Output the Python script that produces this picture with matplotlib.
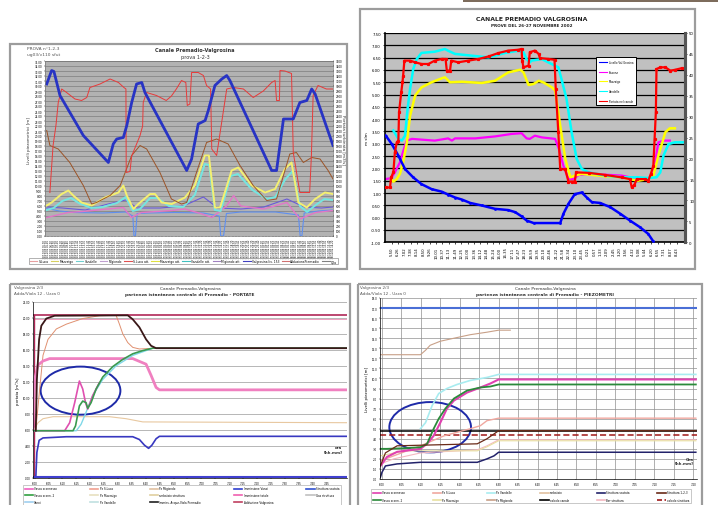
import matplotlib
matplotlib.use("Agg")
import matplotlib.pyplot as plt
from matplotlib.patches import Rectangle, Ellipse
from matplotlib.lines import Line2D

W, H = 718, 506

# ---------------- DATA: panel 1 (top-left) ----------------
p1_blue_x = [0.6, 2.3, 3.1, 5.2, 13.3, 22.0, 23.7, 24.9, 27.2, 28.4, 30.1, 31.8, 33.6, 34.7, 49.2, 50.9, 53.2, 55.6, 56.7, 59.0, 61.4, 63.1, 64.2, 78.7, 80.4, 82.8, 86.2, 88.5, 90.9, 92.6, 93.8, 100]
p1_blue_y = [30.4, 33.1, 32.9, 28.1, 20.1, 14.7, 18.4, 19.4, 19.7, 22.1, 26.7, 30.4, 30.7, 28.7, 13.1, 15.4, 22.4, 23.1, 25.1, 30.1, 31.4, 32.1, 31.1, 13.1, 13.1, 23.4, 23.4, 26.7, 27.1, 29.4, 28.4, 18.1]
p1_red_x = [1.7, 2.8, 3.8, 4.6, 5.8, 7.5, 10.4, 12.7, 14.5, 15.6, 19.1, 22.6, 25.5, 27.4, 28.1, 28.2, 29.5, 30.1, 33.0, 33.9, 34.1, 35.3, 38.7, 42.1, 43.9, 45.6, 47.4, 48.9, 49.4, 50.3, 50.9, 53.2, 55.0, 56.1, 57.5, 57.9, 59.6, 63.1, 65.4, 68.9, 72.3, 75.8, 78.7, 79.9, 80.4, 81.4, 81.6, 83.3, 85.6, 86.2, 88.5, 91.9, 92.5, 93.1, 94.8, 97.7, 100]
p1_red_y = [8.7, 18.1, 22.1, 26.7, 29.4, 28.7, 27.4, 27.1, 27.7, 29.7, 30.4, 31.4, 30.7, 29.7, 29.4, 12.7, 12.9, 16.0, 20.1, 22.0, 26.7, 28.7, 28.1, 27.1, 28.0, 29.4, 31.1, 30.7, 26.1, 26.4, 32.7, 32.7, 32.1, 30.1, 29.4, 17.4, 16.1, 29.4, 29.7, 29.4, 27.7, 29.0, 30.7, 31.1, 27.1, 27.1, 33.1, 33.0, 32.5, 16.7, 8.7, 8.7, 16.1, 28.1, 30.1, 29.4, 29.4]
p1_brown_x = [0.6, 1.7, 4.6, 8.6, 13.3, 16.2, 17.9, 22.6, 26.1, 30.1, 33.0, 35.3, 39.9, 43.9, 47.4, 49.2, 52.6, 56.1, 59.6, 63.6, 67.7, 72.3, 77.0, 80.4, 85.0, 87.3, 89.7, 92.6, 95.5, 98.3, 100]
p1_brown_y = [21.1, 18.1, 17.4, 14.7, 10.1, 6.4, 6.7, 8.1, 10.1, 16.1, 18.1, 17.4, 12.7, 7.4, 6.4, 6.7, 12.7, 18.7, 19.4, 18.4, 14.1, 10.1, 7.1, 7.4, 16.4, 16.7, 14.7, 15.7, 15.4, 13.1, 11.4]
p1_yellow_x = [0.6, 2.3, 5.8, 8.1, 9.8, 12.7, 16.2, 20.8, 25.5, 27.2, 28.4, 30.7, 32.4, 36.5, 38.2, 40.5, 44.0, 48.6, 52.0, 55.5, 56.9, 59.0, 60.8, 64.8, 67.1, 71.8, 76.4, 79.9, 83.3, 85.6, 88.0, 90.9, 93.8, 97.2, 100]
p1_yellow_y = [6.1, 6.7, 8.4, 9.1, 8.1, 6.7, 6.1, 7.7, 8.7, 10.1, 8.1, 5.4, 6.4, 8.4, 8.4, 6.7, 6.4, 7.7, 10.1, 16.1, 16.1, 5.7, 5.7, 13.1, 13.7, 10.1, 8.7, 9.4, 13.4, 14.7, 6.7, 5.7, 7.4, 8.7, 8.4]
p1_cyan_x = [0.6, 3.0, 6.0, 9.0, 12.0, 16.0, 20.0, 25.0, 28.0, 30.5, 33.0, 36.5, 39.0, 43.0, 48.0, 52.0, 55.5, 57.0, 59.0, 61.0, 64.5, 67.0, 72.0, 77.0, 80.0, 83.5, 86.0, 88.5, 91.0, 94.0, 97.0, 100]
p1_cyan_y = [5.2, 5.6, 7.0, 7.6, 6.5, 5.6, 5.8, 6.6, 7.8, 5.0, 5.4, 7.6, 7.6, 6.0, 5.8, 8.2, 14.4, 14.2, 5.2, 5.0, 12.0, 12.4, 9.2, 7.4, 7.8, 11.4, 13.0, 6.0, 4.8, 6.2, 7.4, 7.2]
p1_ltblue_x = [0.6, 5.0, 10.0, 20.0, 28.0, 30.5, 30.9, 31.4, 32.0, 36.0, 45.0, 55.0, 60.5, 61.0, 62.0, 63.0, 68.0, 80.0, 88.0, 88.6, 89.2, 90.0, 95.0, 100]
p1_ltblue_y = [5.5, 5.0, 4.7, 4.6, 4.8, 4.0, 0.0, 0.0, 4.5, 4.6, 4.7, 4.6, 4.0, 0.0, 0.0, 4.5, 4.8, 4.8, 4.2, 0.0, 0.0, 4.6, 5.0, 5.2]
p1_pink_x = [0.6, 8.0, 13.0, 22.0, 27.2, 30.0, 33.5, 44.0, 48.6, 54.0, 58.0, 63.0, 65.5, 68.0, 76.0, 84.0, 88.5, 94.0, 100]
p1_pink_y = [3.7, 4.7, 4.9, 5.4, 5.7, 3.7, 4.7, 5.1, 5.4, 4.5, 3.7, 6.0, 8.1, 6.0, 5.4, 6.7, 3.4, 4.7, 5.1]
p1_purple_x = [0.6, 6.0, 14.0, 22.0, 28.0, 32.0, 40.0, 48.0, 55.0, 60.0, 68.0, 76.0, 84.0, 90.0, 96.0, 100]
p1_purple_y = [5.8, 5.6, 5.2, 6.4, 7.2, 5.6, 5.6, 6.0, 7.8, 5.6, 5.4, 5.8, 7.4, 5.8, 5.6, 5.8]
p1_legend = ["S.Luca", "Mazzaigo", "Vandelle", "Migiondo", "S.Luca att.", "Mazzaigo att.",
             "Vandelle att.", "Migiondo att.", "Valgrosina liv. 153", "AdduzionePremadio", "Q2a"]

# ---------------- DATA: panel 2 (top-right) ----------------
p2_times = ["5.50", "6.26", "7.02", "7.38", "8.14", "8.50", "9.26", "10.01", "10.37", "11.13", "11.49",
            "12.25", "13.00", "13.36", "14.12", "14.48", "15.24", "16.00", "16.35", "17.11", "17.47",
            "18.23", "18.59", "19.35", "20.10", "20.46", "21.22", "21.58", "22.34", "23.10", "23.45",
            "0.21", "0.57", "1.33", "2.09", "2.45", "3.20", "3.56", "4.32", "5.08", "5.44", "6.20",
            "6.55", "7.31", "8.07", "8.43"]
p2_blue_x = [-0.95, 0, 1.05, 2.1, 3.4, 4.7, 6.3, 7.9, 8.9, 10.0, 11.1, 12.4, 14.2, 16.3, 18.4, 19.5, 20.5, 21.3, 22.4, 26.6, 27.1, 27.9, 28.9, 30.0, 30.8, 31.6, 32.9, 34.5, 36.1, 37.6, 39.2, 40.5, 41.3]
p2_blue_r = [25.5, 23.5, 20.7, 17.5, 15.5, 13.9, 12.7, 12.1, 11.4, 10.7, 10.2, 9.4, 8.8, 8.0, 7.7, 7.2, 6.2, 5.2, 4.6, 4.6, 6.8, 9.2, 11.5, 11.9, 10.7, 9.6, 9.4, 8.4, 6.8, 5.2, 3.6, 2.0, 0.2]
p2_red_x = [-0.95, -0.26, -0.1, 0.26, 0.5, 0.8, 1.05, 1.16, 1.5, 1.7, 1.8, 2.0, 2.9, 3.7, 4.7, 5.8, 6.8, 7.9, 8.5, 8.7, 9.2, 9.4, 10.5, 12.1, 13.7, 15.3, 16.8, 18.4, 20.0, 20.5, 20.6, 20.8, 21.6, 21.8, 22.6, 23.2, 23.4, 24.7, 25.7, 25.9, 26.3, 26.6, 27.4, 27.9, 28.4, 28.9, 29.1, 31.1, 33.7, 36.3, 37.6, 37.9, 38.3, 38.7, 40.0, 40.5, 40.9, 41.3, 41.5, 41.7, 41.8, 42.4, 43.2, 44.0, 44.7, 45.8, 46.3]
p2_red_r = [13.1, 13.1, 15.5, 16.7, 21.5, 23.9, 24.3, 31.1, 35.8, 38.2, 39.8, 43.4, 43.4, 43.0, 42.6, 42.6, 43.4, 43.8, 43.8, 41.0, 41.0, 43.4, 43.0, 43.4, 43.8, 44.4, 45.2, 45.8, 46.0, 46.2, 43.4, 41.8, 42.2, 45.4, 45.8, 45.0, 44.0, 43.8, 43.6, 36.6, 26.3, 17.5, 17.4, 14.5, 14.5, 14.5, 16.7, 16.6, 16.1, 15.5, 15.1, 13.1, 13.7, 15.1, 15.1, 14.7, 16.3, 18.3, 24.7, 31.1, 41.4, 41.8, 41.8, 41.0, 41.2, 41.6, 41.4]
p2_cyan_x = [0.26, 1.05, 1.6, 2.1, 2.5, 2.9, 3.4, 3.95, 4.7, 6.8, 8.4, 8.9, 10.0, 12.6, 15.3, 17.9, 20.0, 20.8, 21.3, 21.8, 22.1, 23.7, 25.8, 26.3, 26.8, 27.6, 28.4, 29.2, 30.0, 31.1, 33.7, 36.3, 38.9, 40.5, 41.8, 42.4, 42.9, 43.7, 44.7, 46.1]
p2_cyan_y = [3.54, 3.2, 3.13, 3.33, 4.41, 5.23, 6.04, 6.44, 6.69, 6.74, 6.85, 6.78, 6.65, 6.58, 6.51, 6.69, 6.78, 6.72, 6.44, 6.31, 6.38, 6.44, 6.17, 6.11, 5.63, 4.82, 3.47, 2.39, 1.98, 1.84, 1.71, 1.64, 1.64, 1.61, 1.64, 1.84, 2.52, 2.99, 3.06, 3.06]
p2_yellow_x = [-0.1, 0.26, 0.8, 1.3, 1.8, 2.4, 2.9, 3.7, 4.7, 6.3, 7.9, 8.4, 9.2, 11.1, 14.2, 16.3, 18.4, 20.3, 20.8, 21.6, 22.4, 23.2, 23.9, 25.3, 25.8, 26.6, 27.4, 28.2, 28.9, 30.0, 33.7, 36.3, 38.9, 40.5, 41.3, 42.1, 43.2, 43.9, 44.7]
p2_yellow_y = [1.57, 1.46, 1.57, 1.78, 2.25, 3.06, 4.14, 4.96, 5.29, 5.5, 5.66, 5.7, 5.5, 5.52, 5.47, 5.56, 5.9, 6.01, 5.9, 5.39, 5.43, 5.56, 5.5, 5.29, 5.16, 3.74, 2.39, 1.64, 1.71, 1.78, 1.68, 1.64, 1.5, 1.57, 1.71, 2.52, 3.47, 3.63, 3.63]
p2_magenta_x = [-0.95, -0.1, 0.5, 1.3, 2.0, 2.4, 3.2, 4.7, 6.8, 8.9, 9.5, 10.0, 13.2, 16.3, 18.9, 20.5, 21.3, 21.8, 22.6, 23.7, 25.8, 26.4, 27.1, 27.9, 28.7, 29.5, 31.1, 36.3, 38.9, 40.5, 41.3, 42.1, 42.9, 43.9]
p2_magenta_y = [1.57, 1.6, 1.84, 2.25, 2.86, 3.13, 3.2, 3.17, 3.13, 3.22, 3.13, 3.22, 3.22, 3.3, 3.4, 3.43, 3.22, 3.2, 3.33, 3.26, 3.2, 2.79, 2.11, 1.57, 1.57, 1.73, 1.78, 1.71, 1.57, 1.57, 1.84, 3.06, 3.13, 3.13]
p2_legend = ["Livello Val Grosina", "Sissone", "Mazzaigo", "Vandelle", "Portata nel canale"]

# ---------------- DATA: panel 3 (bottom-left, PORTATE) ----------------
p3_times = ["6.00", "6.05", "6.10", "6.15", "6.20", "6.25", "6.30", "6.35", "6.40", "6.45", "6.50",
            "6.55", "7.00", "7.05", "7.10", "7.15", "7.20", "7.25", "7.30", "7.35", "7.40", "7.45"]
p3_black_x = [0.4, 0.8, 1.6, 2.4, 4.2, 7.2, 33.5, 35.3, 37.7, 40.1, 41.9, 43.7, 112.4]
p3_black_y = [5.9, 12.3, 17.3, 19.0, 19.9, 20.25, 20.3, 19.8, 18.8, 17.3, 16.5, 16.2, 16.2]
p3_salmon_x = [0.4, 1.8, 3.0, 4.8, 7.8, 11.4, 17.3, 23.3, 29.3, 30.5, 31.7, 33.5, 35.3, 37.7, 43.7, 112.4]
p3_salmon_y = [5.9, 11.1, 15.3, 17.3, 18.6, 19.2, 19.9, 20.25, 20.3, 19.2, 18.0, 16.9, 16.3, 16.1, 16.2, 16.2]
p3_pink_x = [-0.6, 0.0, 1.2, 3.0, 5.4, 35.3, 40.1, 41.9, 43.7, 44.9, 112.4]
p3_pink_y = [5.9, 12.3, 14.1, 14.6, 14.9, 14.9, 14.2, 12.8, 11.3, 11.0, 11.0]
p3_green_x = [-0.6, 13.8, 14.7, 16.1, 17.3, 18.5, 19.1, 20.3, 22.1, 24.5, 28.1, 31.7, 35.3, 38.9, 42.5, 112.4]
p3_green_y = [5.9, 5.9, 6.5, 9.0, 9.6, 9.4, 8.7, 9.4, 11.1, 12.6, 13.9, 14.8, 15.5, 15.9, 16.2, 16.2]
p3_magenta_x = [-0.6, 10.8, 12.6, 14.4, 16.1, 17.3, 18.3, 19.1, 20.9, 23.3]
p3_magenta_y = [5.9, 5.9, 6.9, 9.4, 12.1, 11.1, 9.4, 8.6, 10.3, 11.9]
p3_cyan_x = [-0.6, 15.0, 16.7, 18.5, 20.9, 24.5, 29.3, 35.3, 42.5, 112.4]
p3_cyan_y = [5.9, 5.9, 6.7, 8.2, 10.3, 12.3, 14.0, 15.3, 16.2, 16.2]
p3_beige_x = [-0.4, 1.2, 3.0, 6.6, 26.9, 32.9, 38.9, 112.4]
p3_beige_y = [5.9, 6.9, 7.4, 7.65, 7.65, 7.4, 7.0, 6.9]
p3_blue_x = [0.4, 0.8, 1.6, 3.0, 11.4, 35.3, 37.7, 39.5, 41.0, 42.2, 43.7, 44.9, 112.4]
p3_blue_y = [0.0, 3.2, 4.7, 5.0, 5.15, 5.15, 4.8, 4.1, 3.7, 4.1, 4.9, 5.2, 5.2]
p3_top_level = 20.3
p3_top_level2 = 19.9
p3_legend = ["Vasca sconnesso", "Vasca sconn. 2", "Vanoi", "Pz S.Luca", "Pz Mazzaigo",
             "Pz Vandelle", "Pz Migiondo", "serbatoio struttura", "Immiss. Acque-Viola-Premadio",
             "Immissione Vanoi", "Immissione totale", "Adduzione Valgrosina", "Struttura vastata",
             "Gas struttura"]

# ---------------- DATA: panel 4 (bottom-right, PIEZOMETRI) ----------------
p4_times = ["6.00", "6.05", "6.10", "6.15", "6.20", "6.25", "6.30", "6.35", "6.40", "6.45", "6.50",
            "6.55", "7.00", "7.05", "7.10", "7.15", "7.20"]
p4_top_level = 17.0
p4_black_level = 4.8
p4_reddash_level = 4.4
p4_tan_x = [-0.4, 9.9, 11.2, 12.4, 15.0, 18.5, 22.7, 27.0, 30.0, 33.0]
p4_tan_y = [12.36, 12.36, 12.8, 13.3, 13.7, 14.0, 14.35, 14.6, 14.8, 14.8]
p4_cyan_x = [9.9, 11.2, 12.9, 14.6, 16.7, 19.3, 22.7, 27.0, 30.0, 80.7]
p4_cyan_y = [5.0, 5.6, 7.3, 8.5, 9.0, 9.4, 9.8, 10.1, 10.4, 10.4]
p4_magenta_x = [-0.4, 1.3, 3.9, 9.9, 11.6, 13.3, 15.0, 16.7, 18.5, 21.9, 25.3, 27.9, 30.0, 80.7]
p4_magenta_y = [1.3, 2.2, 2.7, 3.0, 3.5, 4.3, 5.6, 7.0, 7.8, 8.6, 9.1, 9.5, 9.9, 9.9]
p4_green_x = [-0.4, 1.3, 5.6, 9.9, 11.6, 13.3, 14.6, 16.3, 18.5, 21.9, 25.3, 27.9, 30.0, 80.7]
p4_green_y = [3.0, 3.0, 3.06, 3.16, 3.5, 5.0, 6.0, 7.0, 8.0, 8.8, 9.1, 9.2, 9.4, 9.4]
p4_salmon_x = [-0.4, 3.0, 9.9, 16.0, 22.7, 25.3, 27.0, 30.0, 80.7]
p4_salmon_y = [1.8, 2.3, 3.3, 4.3, 5.0, 5.3, 5.8, 6.05, 6.05]
p4_pink_x = [-0.4, 3.0, 10.0, 24.5, 27.0, 30.0, 80.7]
p4_pink_y = [1.5, 2.0, 2.6, 2.9, 3.3, 3.9, 3.9]
p4_brown_x = [-0.4, 0.9, 3.9, 24.5, 27.0, 30.0, 80.7]
p4_brown_y = [1.3, 2.6, 3.3, 3.5, 4.0, 4.8, 4.8]
p4_yellow_x = [-0.4, 5.6, 24.5, 27.0, 30.0, 80.7]
p4_yellow_y = [2.3, 2.8, 2.8, 3.2, 3.8, 3.8]
p4_navy_x = [-0.4, 0.0, 0.9, 3.9, 9.9, 24.5, 27.0, 28.8, 30.0, 80.7]
p4_navy_y = [0.17, 0.66, 1.3, 1.5, 1.66, 1.66, 2.0, 2.3, 2.66, 2.66]
p4_legend = ["Vasca sconnesso", "Vasca sconn. 2", "Pz S.Luca", "Pz Mazzaigo", "Pz Vandelle",
             "Pz Migiondo", "serbatoio", "calcolo canale", "Struttura vastata", "Bar struttura",
             "Struttura 1-2-3", "calcolo struttura"]


def rect(x0, y0, x1, y1):
    return [x0 / W, 1 - y1 / H, (x1 - x0) / W, (y1 - y0) / H]


fig = plt.figure(figsize=(W / 100, H / 100), dpi=100)
fig.patch.set_facecolor("white")

bg = fig.add_axes([0, 0, 1, 1], zorder=0)
bg.set_xlim(0, W)
bg.set_ylim(H, 0)
bg.axis("off")

frame_kw = dict(fill=False, edgecolor="#9c9c9c", lw=1.6)
bg.add_patch(Rectangle((10, 45), 337, 225, **frame_kw))
bg.add_patch(Rectangle((360, 10), 335, 260, **frame_kw))
bg.add_patch(Rectangle((10, 285), 340, 240, **frame_kw))
bg.add_patch(Rectangle((358, 285), 344, 240, **frame_kw))
bg.add_patch(Rectangle((463, 0), 255, 3, facecolor="#7d6c5c", edgecolor="none"))

# ================= PANEL 1 =================
ax1 = fig.add_axes(rect(45, 62, 333, 237), zorder=2)
ax1.set_facecolor("#b2b2b2")
ax1.set_xlim(0, 100)
ax1.set_ylim(0, 35)
ax1.set_yticks(range(0, 36))
ax1.set_yticklabels([f"{v:.2f}" for v in range(0, 36)], fontsize=2.0)
ax1.grid(axis="y", color="#7e7e7e", lw=0.5)
ax1.set_axisbelow(True)
p1_ticks = [i * 100 / 86 for i in range(87)]
p1_ticklabels = [f"{26 + (i * 40 // 60) // 24}/11/02 {(5 + (i * 40) // 60) % 24:02d}.{(i * 40) % 60:02d}" for i in range(87)]
ax1.set_xticks(p1_ticks)
ax1.set_xticklabels(p1_ticklabels, rotation=90, fontsize=1.8)
ax1.tick_params(length=1, width=0.3, pad=1)
for s in ax1.spines.values():
    s.set_color("#777777")
    s.set_linewidth(0.5)
ax1.plot(p1_ltblue_x, p1_ltblue_y, color="#5f8ff0", lw=0.8)
ax1.plot(p1_purple_x, p1_purple_y, color="#6a5ad8", lw=0.8)
ax1.plot(p1_pink_x, p1_pink_y, color="#e276c8", lw=1.0)
ax1.plot(p1_cyan_x, p1_cyan_y, color="#74e6e0", lw=1.4)
ax1.plot(p1_yellow_x, p1_yellow_y, color="#f4f070", lw=1.4)
ax1.plot(p1_brown_x, p1_brown_y, color="#9c5428", lw=0.7)
ax1.plot(p1_red_x, p1_red_y, color="#e83a3a", lw=0.7)
ax1.plot(p1_blue_x, p1_blue_y, color="#2834c4", lw=2.0)
ax1r = ax1.twinx()
ax1r.set_ylim(0, 3500)
ax1r.set_yticks(range(0, 3501, 100))
ax1r.set_yticklabels([str(v) for v in range(0, 3501, 100)], fontsize=2.0)
ax1r.tick_params(length=1, width=0.3, pad=1)
for s in ax1r.spines.values():
    s.set_visible(False)

bg.text(27, 47, "PROVA n°1-2-3", fontsize=3.2, color="#555555", va="top")
bg.text(27, 53, "ug03/v110 sfut", fontsize=3.2, color="#555555", va="top")
bg.text(195, 50, "Canale Premadio-Valgrosina", fontsize=3.6, fontweight="bold", ha="center", va="center", color="#333333")
bg.text(195, 57, "prova 1-2-3", fontsize=3.6, ha="center", va="center", color="#333333")
bg.text(29, 140, "Livelli piezometrici [m]", fontsize=3.0, rotation=90, ha="center", va="center", color="#333333")
bg.text(344, 140, "Portata turbinata [m3/s]", fontsize=3.0, rotation=270, ha="center", va="center", color="#333333")

p1_colors = ["#e8a0a0", "#d8d060", "#70d0d0", "#c0a0d0", "#e05050", "#e0e040",
             "#40c0c0", "#a080c0", "#4040c0", "#d07070", "#808080"]
h1 = [Line2D([], [], color=c, lw=0.8) for c in p1_colors]
fig.legend(h1, p1_legend, loc="lower left", ncol=11, mode="expand",
           bbox_to_anchor=(27 / W, 1 - 267 / H, 313 / W, 9 / H), bbox_transform=fig.transFigure,
           fontsize=2.2, frameon=True, edgecolor="#555555", fancybox=False, borderpad=0.4,
           handlelength=2.5, handletextpad=0.4, columnspacing=0.4).get_frame().set_linewidth(0.4)

# ================= PANEL 2 =================
ax2 = fig.add_axes(rect(385, 34, 685, 243.3), zorder=2)
ax2.set_facecolor("#c0c0c0")
ax2.set_xlim(-1.06, 46.3)
ax2.set_ylim(-1, 7.5)
yt2 = [-1 + 0.5 * i for i in range(18)]
ax2.set_yticks(yt2)
ax2.set_yticklabels([f"{v:.2f}" for v in yt2], fontsize=2.8)
ax2.grid(axis="y", color="black", lw=0.9)
ax2.set_axisbelow(True)
ax2.set_xticks(range(len(p2_times)))
ax2.set_xticklabels(p2_times, rotation=90, fontsize=2.8)
ax2.tick_params(length=1.5, width=0.5, pad=1.5)
ax2.spines["left"].set_linewidth(1.2)
ax2.spines["bottom"].set_linewidth(1.2)
ax2.spines["top"].set_visible(False)
ax2.spines["right"].set_color("#555555")
ax2.spines["right"].set_linewidth(2.2)
ax2.set_ylabel("m slm", fontsize=3.0, labelpad=1)
ax2r = ax2.twinx()
ax2r.set_ylim(0, 50)
ax2r.set_yticks(range(0, 51, 5))
ax2r.set_yticklabels([str(v) for v in range(0, 51, 5)], fontsize=2.8)
ax2r.tick_params(length=1.5, width=0.5, pad=1.5)
for s in ["top", "left", "bottom"]:
    ax2r.spines[s].set_visible(False)
ax2r.spines["right"].set_color("#555555")
ax2r.spines["right"].set_linewidth(2.2)
l_mag, = ax2.plot(p2_magenta_x, p2_magenta_y, color="#ff00ff", lw=1.6)
l_yel, = ax2.plot(p2_yellow_x, p2_yellow_y, color="#ffff00", lw=1.8)
l_cya, = ax2.plot(p2_cyan_x, p2_cyan_y, color="#00ffff", lw=1.8)
l_blu, = ax2r.plot(p2_blue_x, p2_blue_r, color="#0000ff", lw=1.8, marker="s", ms=0.9)
l_red, = ax2r.plot(p2_red_x, p2_red_r, color="#ff0000", lw=1.6, marker="s", ms=1.3)
leg2 = ax2r.legend([l_blu, l_mag, l_yel, l_cya, l_red], p2_legend, loc="upper left",
                   bbox_to_anchor=(0.70, 0.89), fontsize=1.9, frameon=True, fancybox=False,
                   edgecolor="black", framealpha=1, labelspacing=2.2, handlelength=3.2,
                   handletextpad=0.6, borderpad=0.9)
leg2.get_frame().set_linewidth(0.7)
for ln in leg2.get_lines():
    ln.set_linewidth(0.8)
    ln.set_marker("")
bg.text(532, 19, "CANALE PREMADIO VALGROSINA", fontsize=4.4, fontweight="bold", ha="center", va="center", color="#222222")
bg.text(532, 26, "PROVE DEL 26-27 NOVEMBRE 2002", fontsize=3.0, fontweight="bold", ha="center", va="center", color="#222222")

# ================= PANEL 3 =================
ax3 = fig.add_axes(rect(33, 302.7, 347, 479), zorder=2)
ax3.set_facecolor("white")
ax3.set_xlim(-0.6, 112.4)
ax3.set_ylim(0, 22)
ax3.set_yticks(range(0, 23, 2))
ax3.set_yticklabels([f"{v:.2f}" for v in range(0, 23, 2)], fontsize=1.9)
ax3.grid(axis="y", color="#9a9a9a", lw=0.5)
ax3.set_axisbelow(True)
ax3.set_xticks([5 * i for i in range(len(p3_times))])
ax3.set_xticklabels(p3_times, fontsize=1.9)
ax3.tick_params(length=1, width=0.3, pad=1)
for s in ax3.spines.values():
    s.set_linewidth(0.5)
ax3.spines["top"].set_visible(False)
ax3.spines["right"].set_visible(False)
ax3.set_ylabel("portata [m³/s]", fontsize=2.8, labelpad=2)
ax3.axhline(p3_top_level, color="#b02858", lw=1.2)
ax3.axhline(p3_top_level2, color="#f0a0c0", lw=0.7)
ax3.axvline(-0.4, ymin=0, ymax=p3_top_level / 22, color="#b02858", lw=1.0)
ax3.plot(p3_beige_x, p3_beige_y, color="#e8c8a0", lw=0.8)
ax3.plot(p3_salmon_x, p3_salmon_y, color="#e09070", lw=0.7)
ax3.plot(p3_pink_x, p3_pink_y, color="#f080c0", lw=2.0)
ax3.plot(p3_cyan_x, p3_cyan_y, color="#80d8e8", lw=1.0)
ax3.plot(p3_magenta_x, p3_magenta_y, color="#e050b0", lw=1.2)
ax3.plot(p3_green_x, p3_green_y, color="#3a9a50", lw=1.2)
ax3.plot(p3_black_x, p3_black_y, color="#3a1818", lw=1.3)
ax3.plot(p3_blue_x, p3_blue_y, color="#3838c0", lw=1.2)
ax3.axhline(0.08, color="#4040d0", lw=1.5)
ax3.add_patch(Ellipse((16.5, 10.9), 28.7, 6.0, fill=False, edgecolor="#1e2aa8", lw=1.4))
ax3.text(0.985, 0.16, "ora\n[hh.mm]", transform=ax3.transAxes, fontsize=2.8, ha="right", va="center", color="#333333", fontweight="bold")
bg.text(14, 288, "Valgrosina 2/3", fontsize=3.0, color="#555555", va="center")
bg.text(14, 294, "Adda/Viola 12 - Uzza 0", fontsize=3.0, color="#555555", va="center")
bg.text(190, 289, "Canale Premadio-Valgrosina", fontsize=3.2, ha="center", va="center", color="#333333")
bg.text(190, 295, "partenza istantanea centrale di Premadio - PORTATE", fontsize=3.2, ha="center", va="center", color="#333333", fontweight="bold")

p3_colors = ["#f060c0", "#30a040", "#a0d0f0", "#f0a090", "#e8e0c0",
             "#c0e0e0", "#e0c0a0", "#e0d0a0", "#202020", "#3040d0",
             "#f060b0", "#c04060", "#3050d0", "#c0c0c0"]
h3 = [Line2D([], [], color=c, lw=1.2) for c in p3_colors]
fig.legend(h3, p3_legend, loc="upper left", ncol=5, mode="expand",
           bbox_to_anchor=(22 / W, 1 - 507 / H, 320 / W, 22 / H), bbox_transform=fig.transFigure,
           fontsize=2.0, frameon=True, edgecolor="#888888", fancybox=False, borderpad=0.4,
           handlelength=3.0, handletextpad=0.5, labelspacing=1.0).get_frame().set_linewidth(0.4)

# ================= PANEL 4 =================
ax4 = fig.add_axes(rect(380, 299, 697, 480), zorder=2)
ax4.set_facecolor("white")
ax4.set_xlim(-0.5, 81)
ax4.set_ylim(0, 18)
ax4.set_yticks(range(0, 19))
ax4.set_yticklabels([f"{v:.1f}" for v in range(0, 19)], fontsize=1.9)
ax4.set_xticks([5 * i for i in range(len(p4_times))])
ax4.set_xticklabels(p4_times, fontsize=1.9)
ax4.grid(True, color="#909090", lw=0.5)
ax4.set_axisbelow(True)
ax4.tick_params(length=1, width=0.3, pad=1)
for s in ax4.spines.values():
    s.set_linewidth(0.5)
ax4.spines["top"].set_visible(False)
ax4.spines["right"].set_visible(False)
ax4.set_ylabel("Livelli piezometrici [m]", fontsize=2.8, labelpad=2)
ax4.axhline(p4_top_level, color="#4a6fd6", lw=1.5)
ax4.axhline(p4_black_level, color="black", lw=1.1)
ax4.axhline(p4_reddash_level, color="#a01818", lw=1.1, ls=(0, (4, 2)))
ax4.plot(p4_tan_x, p4_tan_y, color="#c8a088", lw=0.8)
ax4.plot(p4_cyan_x, p4_cyan_y, color="#a8ecf0", lw=1.2)
ax4.plot(p4_salmon_x, p4_salmon_y, color="#f0a8a0", lw=1.0)
ax4.plot(p4_pink_x, p4_pink_y, color="#f4b8c0", lw=0.8)
ax4.plot(p4_yellow_x, p4_yellow_y, color="#e8e0a0", lw=0.8)
ax4.plot(p4_magenta_x, p4_magenta_y, color="#e040b0", lw=1.5)
ax4.plot(p4_green_x, p4_green_y, color="#2a8a3a", lw=1.3)
ax4.plot(p4_brown_x, p4_brown_y, color="#6a2a18", lw=0.9)
ax4.plot(p4_navy_x, p4_navy_y, color="#22226a", lw=1.1)
ax4.add_patch(Ellipse((12.4, 5.15), 21.0, 5.0, fill=False, edgecolor="#1e2aa8", lw=1.4))
ax4.text(0.99, 0.1, "Ora\n[hh.mm]", transform=ax4.transAxes, fontsize=2.8, ha="right", va="center", color="#333333", fontweight="bold")
bg.text(360, 288, "Valgrosina 2/3", fontsize=3.0, color="#555555", va="center")
bg.text(360, 294, "Adda/Viola 12 - Uzza 0", fontsize=3.0, color="#555555", va="center")
bg.text(545, 289, "Canale Premadio-Valgrosina", fontsize=3.2, ha="center", va="center", color="#333333")
bg.text(545, 295, "partenza istantanea centrale di Premadio - PIEZOMETRI", fontsize=3.2, ha="center", va="center", color="#333333", fontweight="bold")

p4_colors = ["#e040b0", "#2a8a3a", "#f0a8a0", "#e8e0a0", "#a8ecf0", "#c8a088",
             "#e0c0a0", "#000000", "#22226a", "#f4b8c0", "#6a2a18", "#a01818"]
h4 = [Line2D([], [], color=c, lw=1.2) for c in p4_colors]
h4[-1].set_linestyle((0, (3, 1.5)))
fig.legend(h4, p4_legend, loc="upper left", ncol=6, mode="expand",
           bbox_to_anchor=(370 / W, 1 - 506 / H, 322 / W, 17 / H), bbox_transform=fig.transFigure,
           fontsize=2.0, frameon=True, edgecolor="#888888", fancybox=False, borderpad=0.4,
           handlelength=3.0, handletextpad=0.5, labelspacing=1.2).get_frame().set_linewidth(0.4)

fig.savefig("out.png", dpi=100)
